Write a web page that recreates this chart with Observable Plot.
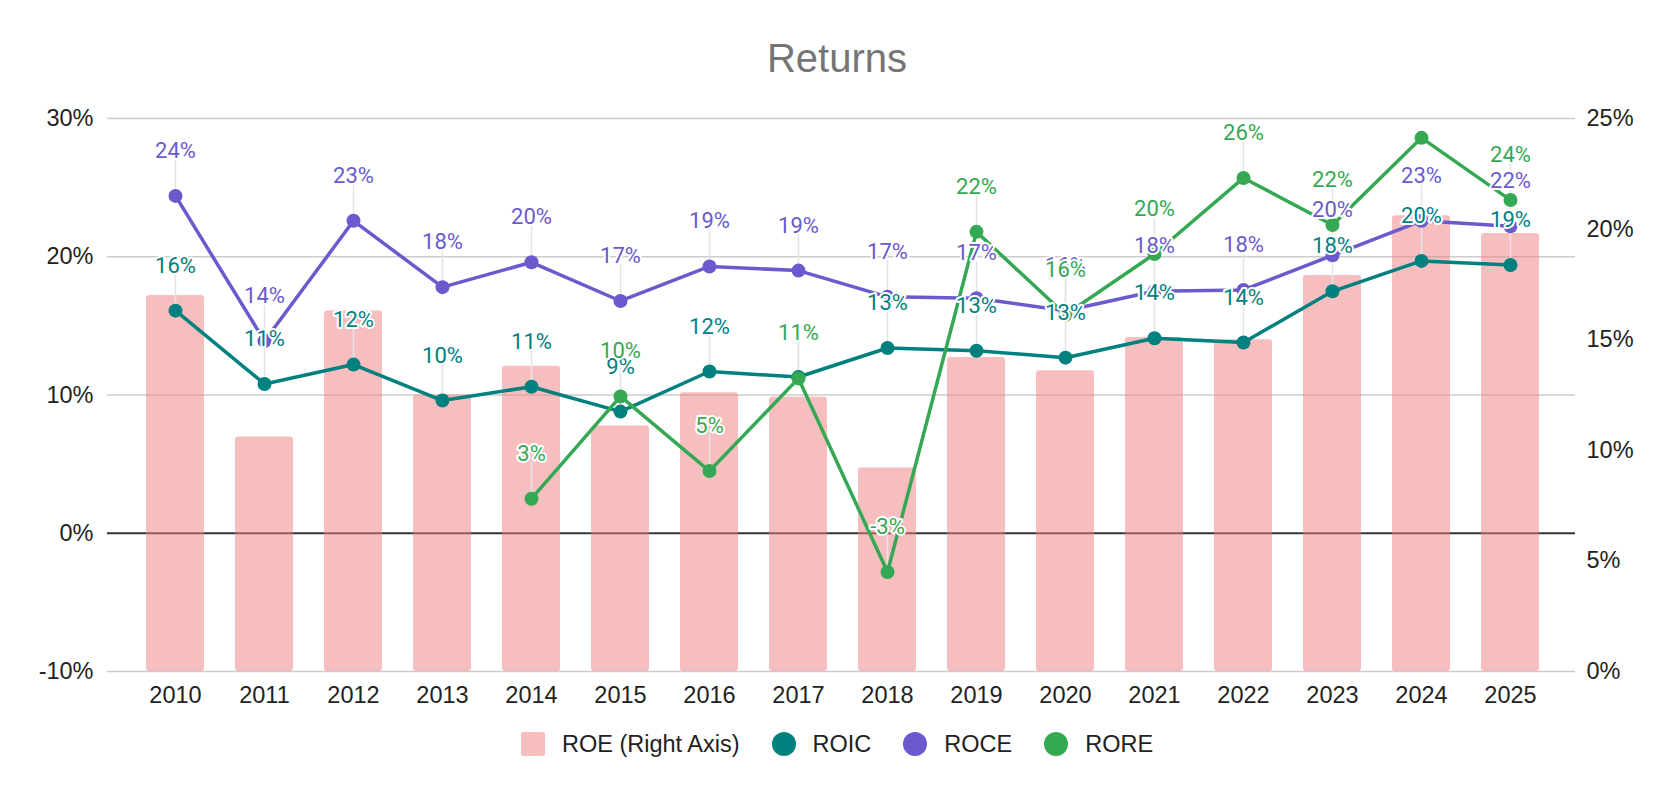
<!DOCTYPE html>
<html><head><meta charset="utf-8">
<script src="https://cdn.jsdelivr.net/npm/d3@7"></script>
<script src="https://cdn.jsdelivr.net/npm/@observablehq/plot@0.6"></script>
<style>
body{margin:0;background:#fff;width:1674px;height:798px;position:relative;overflow:hidden;font-family:"Liberation Sans",Arial,sans-serif;}
#title{position:absolute;left:0;top:38px;width:1674px;text-align:center;font-size:40px;line-height:40px;color:#757575;}
#chart{position:absolute;left:0;top:90px;}
#legend{position:absolute;left:0;top:729px;width:1674px;height:30px;display:flex;justify-content:center;align-items:center;font-size:23.5px;line-height:30px;color:#222;}
.item{display:flex;align-items:center;margin:0 16px;}
.sw{width:24px;height:24px;margin-right:17px;flex:none;}
</style></head>
<body>
<div id="title">Returns</div>
<div id="chart"></div>
<div id="legend"></div>
<script>
const years = ["2010","2011","2012","2013","2014","2015","2016","2017","2018","2019","2020","2021","2022","2023","2024","2025"];
const roe  = [17.0,10.6,16.3,12.5,13.8,11.1,12.6,12.4,9.2,14.2,13.6,15.1,15.0,17.9,20.6,19.8];
const roic = [16.1,10.8,12.2,9.6,10.6,8.8,11.7,11.3,13.4,13.2,12.7,14.1,13.8,17.5,19.7,19.4];
const roce = [24.4,13.9,22.6,17.8,19.6,16.8,19.3,19.0,17.1,17.0,16.1,17.5,17.6,20.1,22.6,22.2];
const rore = [null,null,null,null,2.5,9.9,4.5,11.2,-2.8,21.8,15.8,20.2,25.7,22.3,28.6,24.1];
const leftTicks = [-10,0,10,20,30];
const rightTicks = [0,5,10,15,20,25];
const seriesNames = ["ROE (Right Axis)","ROIC","ROCE","RORE"];
const colors = {ROIC:"#00807f", ROCE:"#6a5acd", RORE:"#34a853"};
const barFill = "#f08286", barOpacity = 0.52;

// right axis (0..25%) mapped onto left scale (-10..30%)
const toLeft = r => -10 + r * 40 / 25;
const toRight = v => (v + 10) * 25 / 40;

const roeData = years.map((year, i) => ({year, roe: roe[i]}));
const mk = (name, arr) => years.map((year, i) => ({year, name, v: arr[i]})).filter(d => d.v != null);
const lines = [mk("ROIC", roic), mk("ROCE", roce), mk("RORE", rore)];
const labels = lines.flat().filter(d => d.v + 45 / 13.82 <= 30.2);

const marks = [
  Plot.ruleY(leftTicks.filter(d => d !== 0), {stroke: "#cccccc", strokeWidth: 1.5}),
  Plot.ruleY([0], {stroke: "#333333", strokeWidth: 2}),
  Plot.barY(roeData, {x: "year", y1: () => -10, y2: d => toLeft(d.roe), fill: barFill, fillOpacity: barOpacity, rx: 3}),
  Plot.ruleX(labels, {x: "year", y1: "v", y2: d => d.v + 2.65, stroke: "#e4e4e4", strokeWidth: 1.5}),
];
for (const s of lines) {
  const c = colors[s[0].name];
  marks.push(Plot.line(s, {x: "year", y: "v", stroke: c, strokeWidth: 3.5}));
  marks.push(Plot.dot(s, {x: "year", y: "v", r: 7, fill: c}));
}
marks.push(Plot.text(labels, {
  x: "year", y: "v", dy: -45, text: d => Math.round(d.v) + "%",
  fill: d => colors[d.name], stroke: "white", strokeWidth: 4,
  fontSize: 22, fontFamily: "Roboto"
}));
marks.push(Plot.axisX({tickSize: 0, tickPadding: 15, fontSize: 23.5, fill: "#222", label: null}));
marks.push(Plot.axisY(leftTicks, {anchor: "left", tickSize: 0, tickPadding: 14, tickFormat: d => d + "%", fontSize: 23.5, fill: "#222", label: null}));
marks.push(Plot.axisY(rightTicks.map(toLeft), {anchor: "right", tickSize: 0, tickPadding: 11, tickFormat: d => Math.round(toRight(d)) + "%", fontSize: 23.5, fill: "#222", label: null}));

const chart = Plot.plot({
  width: 1674, height: 630,
  marginTop: 28, marginBottom: 49, marginLeft: 107, marginRight: 99,
  style: {fontFamily: "Liberation Sans, Arial, sans-serif", background: "white"},
  x: {type: "band", domain: years, range: [140, 1544], paddingInner: 0.353, paddingOuter: 0, align: 0.5, label: null},
  y: {domain: [-10, 30], label: null},
  color: {type: "identity"},
  marks
});
document.getElementById("chart").appendChild(chart);

const legend = document.getElementById("legend");
seriesNames.forEach((n, i) => {
  const it = document.createElement("div"); it.className = "item";
  const sw = document.createElement("div"); sw.className = "sw";
  if (i === 0) { sw.style.background = "#f7bec0"; sw.style.borderRadius = "2px"; }
  else { sw.style.background = colors[n]; sw.style.borderRadius = "50%"; }
  const t = document.createElement("span"); t.textContent = n;
  it.appendChild(sw); it.appendChild(t); legend.appendChild(it);
});
</script>
</body></html>
